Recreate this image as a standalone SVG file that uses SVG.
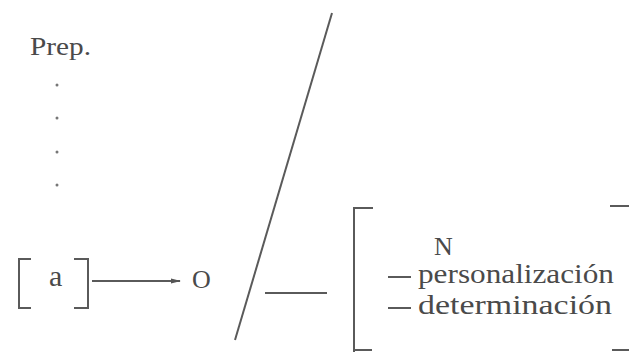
<svg xmlns="http://www.w3.org/2000/svg" width="629" height="352" viewBox="0 0 629 352">
<style>
.t{font-family:"Liberation Serif","Times New Roman",serif;fill:#4a4a4a;}
.ln{stroke:#5a5a5a;stroke-width:2;fill:none;}
.dot{fill:#777;}
</style>
<defs>
<marker id="ah" markerWidth="10" markerHeight="8" refX="9" refY="4" orient="auto" markerUnits="userSpaceOnUse">
<path d="M0,1.5 L10,4 L0,6.5 Z" fill="#555"/>
</marker>
</defs>
<rect width="629" height="352" fill="#fff"/>
<g id="prep">
<text class="t" x="30" y="55" font-size="25" textLength="61" lengthAdjust="spacingAndGlyphs">Prep.</text>
<circle class="dot" cx="57" cy="85" r="1.5"/>
<circle class="dot" cx="57" cy="118" r="1.5"/>
<circle class="dot" cx="57" cy="152" r="1.5"/>
<circle class="dot" cx="57" cy="185" r="1.5"/>
</g>
<g id="a">
<path class="ln" d="M31,259 L19,259 L19,308 L31,308"/>
<path class="ln" d="M74,259 L88,259 L88,308 L74,308"/>
<text class="t" x="49" y="286" font-size="30">a</text>
</g>
<g id="O">
<text class="t" x="192" y="288" font-size="26">O</text>
</g>
<g id="slash">
<line class="ln" x1="332" y1="13" x2="235" y2="340"/>
</g>
<g id="box">
<path class="ln" d="M373,208 L354,208 L354,352"/>
<path class="ln" d="M610,206 L629,206"/>
<path class="ln" d="M354,350 L372,350"/>
<path class="ln" d="M612,350 L629,350"/>
<text class="t" x="434" y="255" font-size="26">N</text>
<line class="ln" x1="388" y1="277" x2="411" y2="277"/>
<text class="t" x="418" y="283" font-size="27" textLength="196" lengthAdjust="spacingAndGlyphs">personalización</text>
<line class="ln" x1="388" y1="308" x2="411" y2="308"/>
<text class="t" x="418" y="314" font-size="27" textLength="194" lengthAdjust="spacingAndGlyphs">determinación</text>
</g>
<g id="connectors">
<line class="ln" x1="92" y1="281" x2="180" y2="281" marker-end="url(#ah)"/>
<line class="ln" x1="265" y1="293" x2="327" y2="293"/>
</g>
</svg>
